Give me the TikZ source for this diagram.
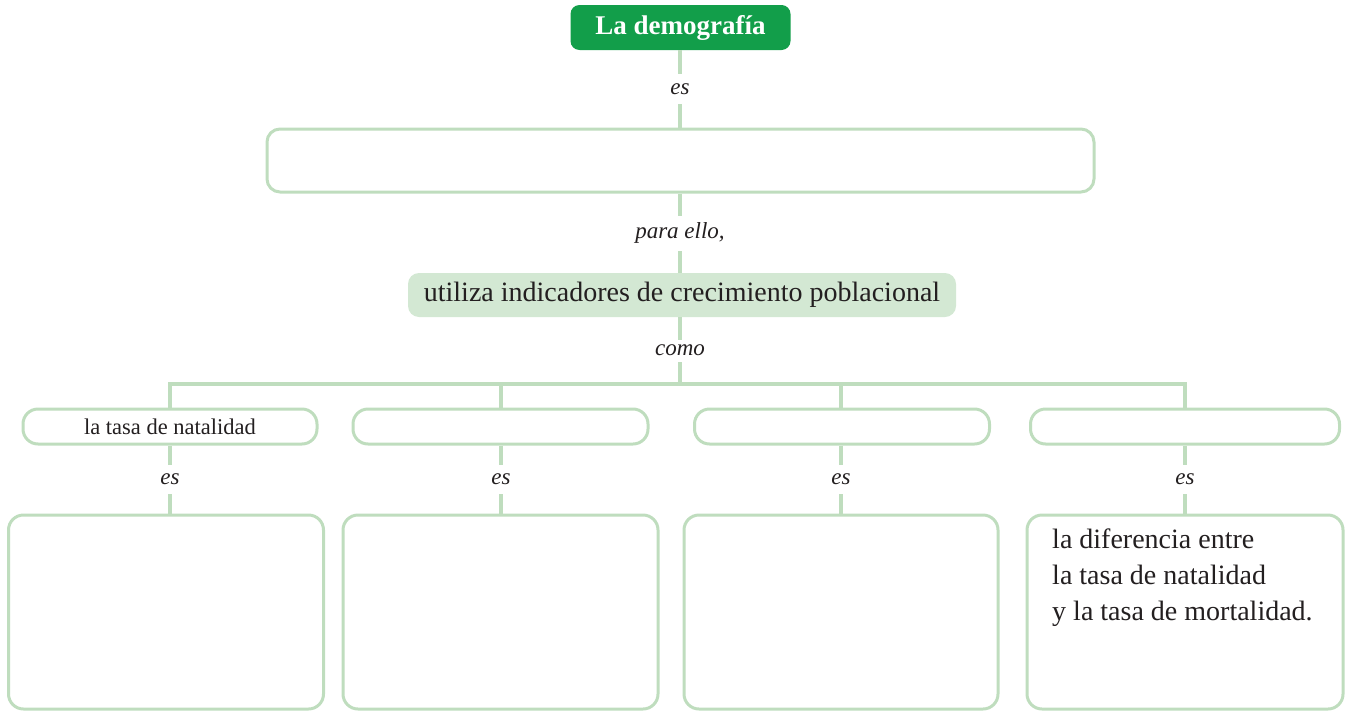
\documentclass[tikz,border=0pt]{standalone}
\usepackage{fontspec}
\setmainfont{Liberation Serif}
\definecolor{titlegreen}{HTML}{129E4A}
\definecolor{linegreen}{HTML}{BFDDBE}
\definecolor{fillgreen}{HTML}{D3E8D3}
\definecolor{textcol}{HTML}{231F20}
\begin{document}
\begin{tikzpicture}[x=1pt,y=-1pt,
  every node/.style={inner sep=0pt,text=textcol},
  titlebox/.style={fill=titlegreen,rounded corners=9pt,minimum width=220pt,minimum height=45pt,
    text=white,font=\fontsize{27}{30}\selectfont\bfseries},
  bigbar/.style={draw=linegreen,line width=3pt,fill=white,rounded corners=13pt},
  keybox/.style={fill=fillgreen,rounded corners=11pt,minimum width=548pt,minimum height=44pt,
    font=\fontsize{28}{32}\selectfont},
  smallbox/.style={draw=linegreen,line width=3pt,fill=white,rounded corners=15pt,
    minimum height=35pt,font=\fontsize{22.5}{26}\selectfont},
  answerbox/.style={draw=linegreen,line width=3pt,fill=white,rounded corners=15pt,
    minimum width=315pt,minimum height=194pt},
  conn/.style={draw=linegreen,line width=4.5pt},
  linklabel/.style={fill=white,inner xsep=3pt,font=\fontsize{23}{26}\selectfont\itshape}
]
\useasboundingbox (0,0) rectangle (1348,712);

% nodes
\node[titlebox] (t) at (680.5,27.5) {La demografía};
\node[bigbar,minimum width=827pt,minimum height=63pt] (d) at (680.5,160.5) {};
\node[keybox] (k) at (682,295) {utiliza indicadores de crecimiento poblacional};

\node[smallbox,minimum width=294pt] (s1) at (170,426.5) {la tasa de natalidad};
\node[smallbox,minimum width=295pt] (s2) at (500.5,426.5) {};
\node[smallbox,minimum width=295pt] (s3) at (842,426.5) {};
\node[smallbox,minimum width=309pt] (s4) at (1185,426.5) {};

\node[answerbox] (b1) at (166,612) {};
\node[answerbox] (b2) at (500.5,612) {};
\node[answerbox,minimum width=314pt] (b3) at (841,612) {};
\node[answerbox,minimum width=316pt] (b4) at (1185,612) {};
\node[anchor=north west,align=left,font=\fontsize{28}{36}\selectfont] (b4t) at (1052,529)
  {la diferencia entre\\la tasa de natalidad\\y la tasa de mortalidad.};

\coordinate (bar) at (680,384);

% connectors
\draw[conn] (t.south -| 680,0) -- node[linklabel,minimum height=30pt] {es} (d.north -| 680,0);
\draw[conn] (d.south -| 680,0) -- node[linklabel,minimum height=35pt] {para ello,} (k.north -| 680,0);
\draw[conn] (k.south -| 680,0) -- node[linklabel,minimum height=22pt] {como} (bar);
\draw[conn] (s1.north -| 170,0) -- (170,384) -- (1185,384) -- (s4.north -| 1185,0);
\draw[conn] (bar -| 501,0) -- (s2.north -| 501,0);
\draw[conn] (bar -| 841,0) -- (s3.north -| 841,0);
\foreach \i/\x in {1/170,2/501,3/841,4/1185}{
  \draw[conn] (s\i.south -| \x,0) -- node[linklabel,minimum height=29pt] {es} (b\i.north -| \x,0);
}
% redraw boxes over connectors ends
\end{tikzpicture}
\end{document}
